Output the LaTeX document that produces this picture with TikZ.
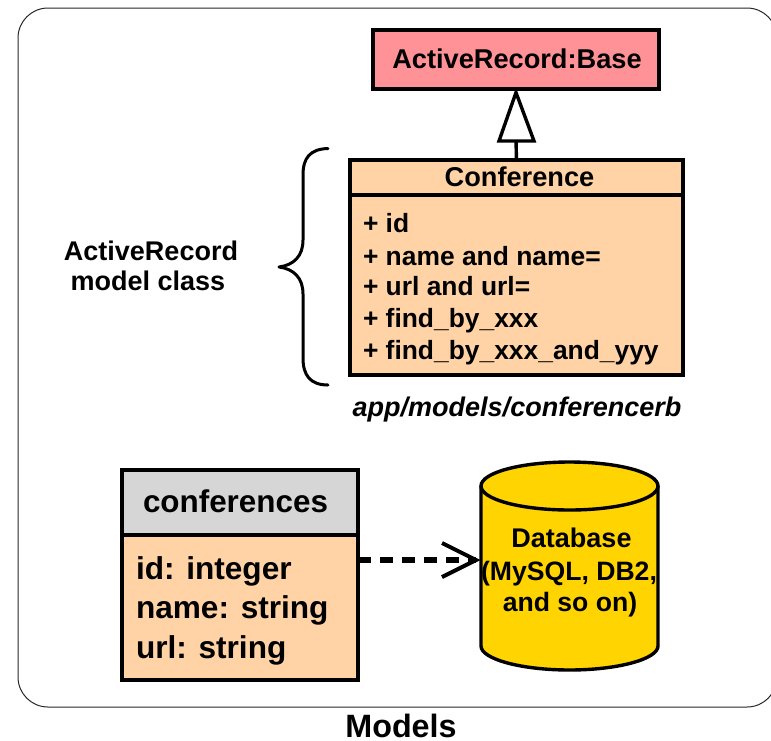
\documentclass[tikz,border=0pt]{standalone}
\usepackage{fontspec}
\setmainfont{Liberation Sans}
\definecolor{peach}{HTML}{FFD3A6}
\definecolor{rosebox}{HTML}{FF9296}
\definecolor{greyhead}{HTML}{D6D6D6}
\definecolor{dbgold}{HTML}{FFD400}
\tikzset{
  x=1pt,y=-1pt,
  boxthick/.style={draw=black,line width=3.4pt,line join=miter,inner sep=0pt,outer sep=0pt},
  txt/.style={inner sep=0pt,outer sep=0pt,font=\bfseries\fontsize{#1}{#1}\selectfont,text=black},
  txt/.default=27.2pt,
}
\begin{document}
\begin{tikzpicture}
\useasboundingbox (0,0) rectangle (771,740);
% frame
\clip (0,0) rectangle (771,740);
\draw[black!85,line width=1pt,rounded corners=30pt] (18,8) rectangle (777,707);
% ActiveRecord base
\node[boxthick,fill=rosebox,minimum width=286pt,minimum height=59pt] (base) at (516,59.5) {};
\node[txt,anchor=base] (basetxt) at (517,68) {ActiveRecord:Base};
% Conference class
\node[boxthick,fill=peach,minimum width=333pt,minimum height=35pt] (confhead) at (516.5,177.5) {};
\node[boxthick,fill=peach,minimum width=333pt,minimum height=180pt] (confbody) at (516.5,285) {};
\node[txt,anchor=base] (conftxt) at (519.5,186) {Conference};
\node[txt=26.4pt,anchor=base west] (r1) at (363,232) {+ id};
\node[txt=26.4pt,anchor=base west] (r2) at (363,265) {+ name and name=};
\node[txt=26.4pt,anchor=base west] (r3) at (363,295) {+ url and url=};
\node[txt=26.4pt,anchor=base west] (r4) at (363,327) {+ find\_by\_xxx};
\node[txt=26.4pt,anchor=base west] (r5) at (363,359) {+ find\_by\_xxx\_and\_yyy};
% generalisation
\coordinate (trib) at (516,141);
\coordinate (tria) at (516,92.5);
\draw[line width=3.4pt] (confhead.north) -- (trib);
\draw[line width=3.4pt,fill=white,line join=miter] (tria) -- (534,141) -- (499,141) -- cycle;
% brace
\coordinate (bt) at (328,148.5);
\coordinate (bm) at (279,267);
\coordinate (bb) at (328,385);
\draw[line width=3pt,line cap=round,line join=round] (bt) .. controls (310,149) and (303,158) .. (303,175) -- (303,240) .. controls (303,256) and (294,265) .. (bm) .. controls (294,269) and (303,278) .. (303,294) -- (303,358) .. controls (303,375) and (310,385) .. (bb);
\node[txt=27pt,anchor=base] (lab1) at (151,260) {ActiveRecord};
\node[txt=27pt,anchor=base] (lab2) at (148,290) {model class};
\node[txt,anchor=base,font=\bfseries\itshape\fontsize{27pt}{27pt}\selectfont] (path) at (517,416) {app/models/conferencerb};
% table
\node[boxthick,fill=greyhead,minimum width=236pt,minimum height=65pt] (thead) at (240,502.5) {};
\node[boxthick,fill=peach,minimum width=236pt,minimum height=145pt] (tbody) at (240,607.5) {};
\node[txt=31.4pt,anchor=base] (ttxt) at (235.5,512) {conferences};
\node[txt=31.6pt,anchor=base west] (t1) at (136,579) {id: integer};
\node[txt=31.6pt,anchor=base west] (t2) at (136,618) {name: string};
\node[txt=31.6pt,anchor=base west] (t3) at (136,658) {url: string};
% database
\draw[line width=3.4pt,fill=dbgold,line join=round] (481,486) -- (481,646) .. controls (481,659) and (521,670) .. (569.5,670) .. controls (618,670) and (658,659) .. (658,646) -- (658,486) -- cycle;
\draw[line width=3.4pt,fill=dbgold] (569.5,486) ellipse[x radius=88.5,y radius=24];
\node[inner sep=0pt,outer sep=0pt,minimum width=177pt,minimum height=208pt] (db) at (569.5,566) {};
\node[txt=27pt,anchor=base] (d1) at (571.5,547) {Database};
\node[txt=26.6pt,anchor=base] (d2) at (569,580) {(MySQL, DB2,};
\node[txt=26.6pt,anchor=base] (d3) at (570,611) {and so on)};
% dependency
\coordinate (from) at (tbody.north east |- 0,560);
\coordinate (to) at ([xshift=-5pt]db.west |- 0,560);
\draw[line width=5.5pt,dash pattern=on 13pt off 9pt] (from) -- (to);
\draw[line width=4pt,line join=miter] (442,543) -- (to) -- (442,577);
\node[txt=32.3pt,anchor=base] (title) at (401,737.5) {Models};
\end{tikzpicture}
\end{document}
